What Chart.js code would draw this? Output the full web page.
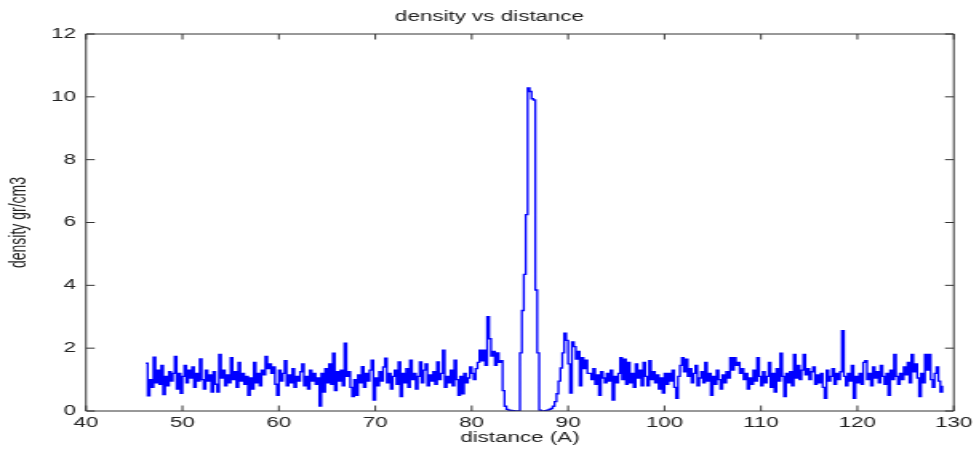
<!DOCTYPE html>
<html>
<head>
<meta charset="utf-8">
<title>density vs distance</title>
<script src="https://cdn.jsdelivr.net/npm/chart.js@4.4.1/dist/chart.umd.min.js"></script>
<style>
  html, body { margin: 0; padding: 0; background: #fff; overflow: hidden; }
  /* the original figure is a stretched matlab export, so draw narrow and stretch it */
  #wrap { width: 612px; height: 450px; transform: scaleX(1.5997); transform-origin: 0 0; }
</style>
</head>
<body>
<div id="wrap"><canvas id="chart" width="612" height="450"></canvas></div>
<script>
// samples along the distance axis
var distStart = 46.2;
var distStep = 0.2;

// density (gr/cm3), one row = 10 samples = 2 A
var densityValues = [
  1.52, 0.48, 1.0, 0.75, 1.71, 0.9, 1.3, 0.85, 1.45, 0.52,   // 46.2
  1.1, 0.8, 1.25, 0.95, 1.2, 1.74, 0.7, 1.2, 0.56, 1.1,      // 48.2
  1.45, 0.9, 1.3, 1.05, 1.4, 0.75, 1.2, 0.95, 1.66, 1.0,     // 50.2
  0.7, 1.3, 0.95, 1.15, 0.6, 1.25, 0.85, 0.6, 1.8, 1.05,     // 52.2
  1.3, 0.8, 1.15, 0.9, 1.7, 1.0, 1.25, 0.75, 1.55, 0.95,     // 54.2
  1.2, 0.85, 1.1, 0.5, 1.05, 0.7, 1.55, 0.9, 1.2, 0.8,       // 56.2
  1.3, 1.15, 1.74, 1.35, 1.5, 1.2, 1.4, 0.85, 0.5, 1.3,      // 58.2
  0.95, 1.2, 1.6, 0.8, 1.15, 0.9, 1.35, 0.75, 1.1, 0.95,     // 60.2
  1.25, 1.5, 0.8, 1.1, 0.7, 1.3, 0.95, 1.2, 0.85, 1.05,      // 62.2
  0.16, 1.2, 0.6, 1.35, 0.9, 1.5, 0.85, 1.84, 0.65, 1.25,    // 64.2
  0.95, 1.3, 0.8, 2.16, 1.1, 1.25, 0.75, 0.46, 1.0, 0.5,     // 66.2
  1.15, 0.9, 1.41, 0.75, 1.2, 0.95, 1.3, 1.62, 0.35, 1.05,   // 68.2
  0.8, 1.25, 0.95, 1.4, 1.68, 0.9, 1.2, 0.7, 1.1, 1.3,       // 70.2
  0.85, 1.56, 0.46, 1.2, 0.9, 1.35, 0.75, 1.62, 1.0, 1.2,    // 72.2
  0.7, 1.1, 1.56, 0.9, 1.3, 1.5, 0.8, 1.15, 0.95, 1.25,      // 74.2
  0.85, 1.56, 1.0, 1.2, 1.94, 0.75, 1.1, 0.9, 1.3, 0.8,      // 76.2
  1.62, 1.0, 0.5, 1.1, 0.55, 1.2, 0.9, 1.05, 1.4, 1.2,       // 78.2
  1.0, 1.35, 1.55, 1.94, 1.6, 1.94, 1.45, 3.0, 2.3, 1.75,    // 80.2
  1.9, 1.45, 1.85, 1.55, 1.6, 0.65, 0.15, 0.05, 0.03, 0.02,  // 82.2
  0.01, 0, 0, 0, 1.85, 3.2, 4.35, 6.25, 10.28, 10.17,        // 84.2
  9.94, 9.9, 3.85, 1.85, 0.03, 0, 0, 0.01, 0.03, 0.05,       // 86.2
  0.08, 0.15, 0.3, 0.55, 0.95, 1.37, 1.85, 2.48, 2.25, 1.5,  // 88.2
  0.57, 2.2, 2.05, 1.65, 1.9, 0.8, 1.7, 1.35, 1.62, 1.2,     // 90.2
  1.2, 1.0, 1.35, 0.85, 1.15, 0.5, 1.25, 1.05, 0.9, 1.2,     // 92.2
  0.95, 1.3, 0.35, 1.1, 0.9, 1.2, 1.7, 1.0, 1.65, 0.85,      // 94.2
  1.55, 0.9, 1.2, 0.75, 1.5, 1.05, 1.3, 0.8, 1.55, 1.1,      // 96.2
  0.8, 1.6, 1.0, 1.25, 0.9, 1.15, 0.7, 1.05, 0.57, 1.2,      // 98.2
  0.85, 1.2, 0.95, 1.3, 0.75, 0.4, 1.1, 1.45, 1.7, 1.25,     // 100.2
  1.65, 1.1, 1.35, 0.9, 1.2, 1.45, 0.8, 1.05, 1.25, 0.9,     // 102.2
  1.55, 0.95, 1.2, 0.5, 1.1, 0.85, 1.3, 1.0, 0.7, 1.15,      // 104.2
  0.9, 1.25, 1.05, 1.7, 1.3, 1.7, 1.45, 1.55, 1.2, 1.35,     // 106.2
  1.0, 1.2, 0.7, 1.05, 0.85, 1.3, 0.95, 1.7, 1.1, 0.8,       // 108.2
  1.25, 0.9, 1.1, 1.55, 0.75, 1.2, 0.6, 1.35, 0.95, 1.84,    // 110.2
  1.1, 0.46, 1.2, 0.9, 1.25, 0.8, 1.8, 1.05, 1.45, 1.0,      // 112.2
  1.3, 1.8, 1.15, 1.35, 1.0, 1.25, 1.4, 0.85, 1.15, 0.9,     // 114.2
  1.2, 0.75, 0.4, 1.3, 0.95, 1.1, 1.35, 0.85, 1.2, 1.0,      // 116.2
  1.25, 2.56, 1.1, 0.8, 1.2, 0.95, 1.45, 0.4, 1.1, 0.9,      // 118.2
  1.2, 0.85, 1.55, 1.6, 1.0, 1.2, 0.8, 1.4, 1.05, 1.25,      // 120.2
  0.9, 1.45, 1.1, 0.85, 1.2, 0.5, 1.3, 1.0, 1.8, 1.1,        // 122.2
  0.85, 1.2, 1.0, 1.4, 1.15, 1.55, 0.9, 1.8, 1.25, 1.5,      // 124.2
  1.05, 0.46, 1.2, 0.9, 1.8, 1.3, 1.8, 1.0, 0.75, 1.2,       // 126.2
  1.4, 0.95, 0.6, 0.8                                        // 128.2
];

var xTicks = [40, 50, 60, 70, 80, 90, 100, 110, 120, 130];
var yTicks = [0, 2, 4, 6, 8, 10, 12];

var FONT = '"Liberation Sans", Arial, sans-serif';
var TEXT = '#222';

var points = densityValues.map(function (v, i) {
  return { x: +(distStart + i * distStep).toFixed(1), y: v };
});

// matlab style box with inward ticks on all four sides
var boxPlugin = {
  id: 'box',
  afterDatasetsDraw: function (chart) {
    var ctx = chart.ctx, a = chart.chartArea;
    var sx = chart.scales.x, sy = chart.scales.y;
    var len = 5.5;
    ctx.save();
    ctx.strokeStyle = '#333';
    ctx.lineWidth = 1;
    ctx.beginPath();
    ctx.rect(a.left, a.top, a.right - a.left, a.bottom - a.top);
    xTicks.forEach(function (t) {
      var p = sx.getPixelForValue(t);
      ctx.moveTo(p, a.bottom); ctx.lineTo(p, a.bottom - len);
      ctx.moveTo(p, a.top); ctx.lineTo(p, a.top + len);
    });
    yTicks.forEach(function (t) {
      var p = sy.getPixelForValue(t);
      ctx.moveTo(a.left, p); ctx.lineTo(a.left + len, p);
      ctx.moveTo(a.right, p); ctx.lineTo(a.right - len, p);
    });
    ctx.stroke();
    ctx.restore();
  }
};

new Chart(document.getElementById('chart'), {
  type: 'line',
  data: {
    datasets: [{
      data: points,
      borderColor: '#0000ff',
      borderWidth: 1.35,
      pointRadius: 0,
      stepped: 'before',
      fill: false
    }]
  },
  options: {
    responsive: false,
    animation: false,
    devicePixelRatio: 1,
    layout: { padding: 0 },
    plugins: {
      legend: { display: false },
      tooltip: { enabled: false },
      title: {
        display: true,
        text: 'density vs distance',
        color: TEXT,
        font: { family: FONT, size: 14, weight: 'normal' },
        padding: { top: 8.6, bottom: 8.6 }
      }
    },
    scales: {
      x: {
        type: 'linear',
        min: 40,
        max: 130,
        afterBuildTicks: function (s) { s.ticks = xTicks.map(function (v) { return { value: v }; }); },
        ticks: { color: TEXT, font: { family: FONT, size: 14 }, padding: 4.1, maxRotation: 0, autoSkip: false },
        grid: { display: false, drawTicks: false },
        border: { display: false },
        title: { display: true, text: 'distance (A)', color: TEXT, font: { family: FONT, size: 14 }, padding: { top: 0, bottom: 3.6 } },
        afterFit: function (s) { s.height = 39; }
      },
      y: {
        min: 0,
        max: 12,
        afterBuildTicks: function (s) { s.ticks = yTicks.map(function (v) { return { value: v }; }); },
        ticks: { color: TEXT, font: { family: FONT, size: 14 }, padding: 6.3 },
        grid: { display: false, drawTicks: false },
        border: { display: false },
        title: { display: true, text: 'density gr/cm3', color: TEXT, font: { family: FONT, size: 14 }, padding: { top: 4.1, bottom: 0 } },
        afterFit: function (s) { s.width = 53.76; }
      },
      yRight: {
        position: 'right',
        ticks: { display: false },
        grid: { display: false, drawTicks: false },
        border: { display: false },
        afterFit: function (s) { s.width = 13.1; }
      }
    }
  },
  plugins: [boxPlugin]
});
</script>
</body>
</html>
